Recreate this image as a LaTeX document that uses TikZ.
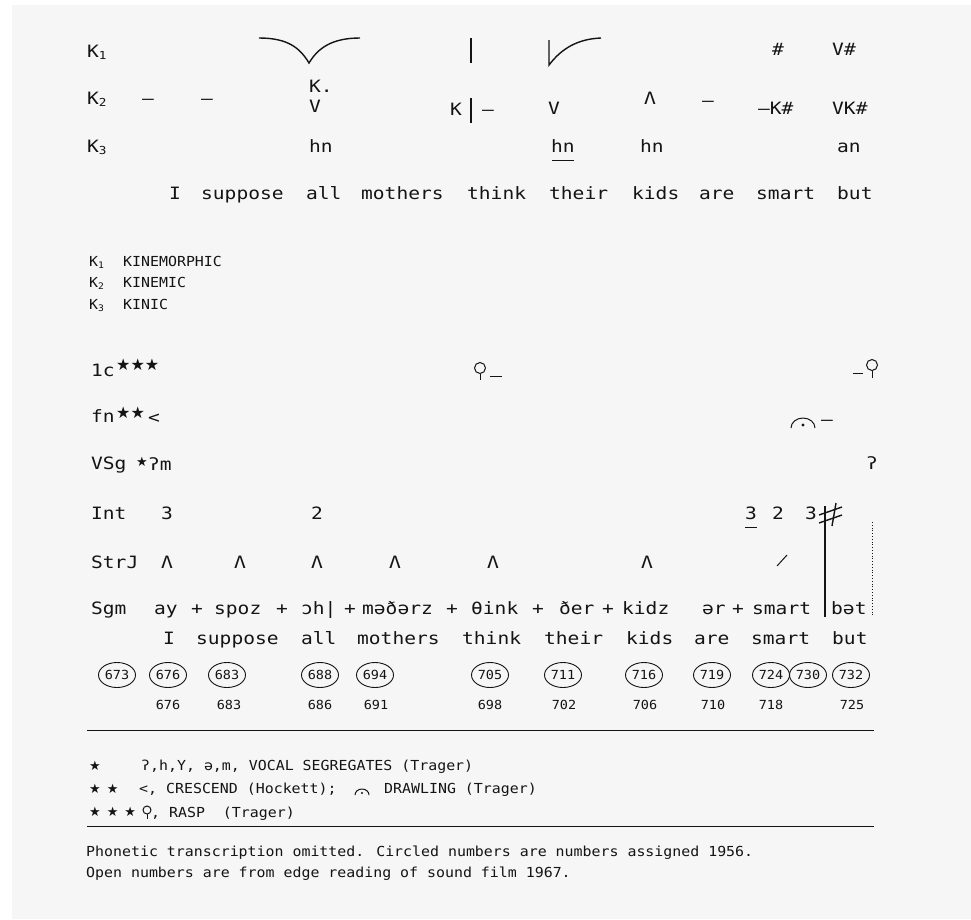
\documentclass[tikz,border=0pt]{standalone}
\usepackage{fontspec}
\usetikzlibrary{shapes.geometric}
\setmainfont[FakeStretch=1.15]{DejaVu Sans Mono}
\newfontfamily\smallf[FakeStretch=1.08]{DejaVu Sans Mono}
\newfontfamily\symf{DejaVu Sans}
\definecolor{bg}{HTML}{F6F6F6}
\definecolor{ink}{HTML}{141414}
\newcommand{\ksub}[1]{\raisebox{-0.12em}{\fontsize{11pt}{11pt}\selectfont #1}}
\newcommand{\ksubs}[1]{\raisebox{-0.12em}{\fontsize{9pt}{9pt}\selectfont #1}}
\tikzset{
  big/.style={font=\fontsize{17pt}{20pt}\selectfont, text=ink, inner sep=0pt, anchor=mid west},
  bigc/.style={big, anchor=mid},
  small/.style={font=\smallf\fontsize{13.8pt}{16pt}\selectfont, text=ink, inner sep=0pt, anchor=mid west},
  stars/.style={font=\symf\fontsize{16pt}{18pt}\selectfont, text=ink, inner sep=0pt, anchor=base west},
  fstars/.style={font=\symf\fontsize{13pt}{14pt}\selectfont, text=ink, inner sep=0pt, anchor=base west},
  num/.style={font=\smallf\fontsize{12.5pt}{14pt}\selectfont, text=ink, inner sep=0pt, anchor=mid},
  circnum/.style={num, draw=ink, ellipse, minimum width=37pt, minimum height=25pt, line width=0.9pt, anchor=center},
  stroke/.style={draw=ink, line width=1.4pt},
  thin/.style={draw=ink, line width=1pt},
}
\begin{document}
\begin{tikzpicture}[x=1pt,y=-1pt]
\useasboundingbox (0,0) rectangle (971,919);
\fill[bg] (12,5) rectangle (971,919);

% ---------- kinesic rows
\node[big] (k1) at (87,55) {K\ksub{1}};
\node[big] (k2) at (87,102) {K\ksub{2}};
\node[big] (k3) at (87,150) {K\ksub{3}};

\draw[stroke] (259,38) .. controls (288,38) and (300,48) .. (309,63) .. controls (318,48) and (332,38) .. (360,38);
\draw[stroke] (471,38) -- (471,63);
\draw[stroke] (549,40) -- (549,65) .. controls (562,48) and (578,39) .. (601,38);
\node[bigc] (a1) at (778,53) {\#};
\node[bigc] (a2) at (844,53) {V\#};

\node[bigc] (b1) at (148,102) {–};
\node[bigc] (b2) at (207,102) {–};
\node[big] (b3) at (309,90) {K.};
\node[big] (b4) at (309,110) {V};
\node[big] (b5) at (450,113) {K};
\draw[stroke] (471,98) -- (471,123);
\node[big] (b6) at (482,113) {–};
\node[bigc] (b7) at (554,112) {V};
\node[bigc] (b8) at (650,102) {Λ};
\node[bigc] (b9) at (708,104) {–};
\node[big] (b10) at (758,112) {–K\#};
\node[big] (b11) at (832,112) {VK\#};

\node[big] (c1) at (309,150) {hn};
\node[big] (c2) at (551,150) {hn};
\draw[thin] (552,160) -- (574,160);
\node[big] (c3) at (640,150) {hn};
\node[big] (c4) at (837,150) {an};

\node[big] (w1) at (169,197) {I};
\node[big] (w2) at (201,197) {suppose};
\node[big] (w3) at (306,197) {all};
\node[big] (w4) at (361,197) {mothers};
\node[big] (w5) at (467,197) {think};
\node[big] (w6) at (549,197) {their};
\node[big] (w7) at (632,197) {kids};
\node[big] (w8) at (699,197) {are};
\node[big] (w9) at (756,197) {smart};
\node[big] (w10) at (837,197) {but};

% ---------- legend
\node[small] (l1) at (89,264) {K\ksubs{1}};
\node[small] (l1t) at (123,264) {KINEMORPHIC};
\node[small] (l2) at (89,285) {K\ksubs{2}};
\node[small] (l2t) at (123,285) {KINEMIC};
\node[small] (l3) at (89,307) {K\ksubs{3}};
\node[small] (l3t) at (123,307) {KINIC};

% ---------- paralinguistic rows
\node[big] (r1) at (91,374) {1c};
\node[stars] (r1s) at (116,370) {★★★};
\draw[thin] (480,368) circle (5.5);
\draw[thin] (480,373.5) -- (480,380);
\draw[thin] (490,376) -- (502,376);
\draw[thin] (853,373) -- (863,373);
\draw[thin] (872,365) circle (5.5);
\draw[thin] (872,370.5) -- (872,378);

\node[big] (r2) at (91,420) {fn};
\node[stars] (r2s) at (116,418) {★★};
\node[big] (r2l) at (148,421) {<};
\draw[thin] (791,428) arc[start angle=180, end angle=360, x radius=12, y radius=10];
\fill[ink] (803,425) circle (1.6);
\node[bigc] (r2d) at (827,423) {–};

\node[big] (r3) at (91,467) {VSg};
\node[fstars] (r3s) at (136,466) {★};
\node[big] (r3g) at (148,468) {ʔm};
\node[bigc] (r3r) at (872,467) {ʔ};

\node[big] (r4) at (91,517) {Int};
\node[bigc] (i1) at (167,517) {3};
\node[bigc] (i2) at (317,517) {2};
\node[bigc] (i3) at (751,517) {3};
\draw[thin] (745,527) -- (757,527);
\node[bigc] (i4) at (778,517) {2};
\node[bigc] (i5) at (811,517) {3};
\draw[stroke] (825,506) -- (825,617);
\draw[stroke] (832,526) -- (836,503);
\draw[stroke] (819,515) -- (842,507);
\draw[stroke] (819,523) -- (842,515);
\draw[ink, line width=0.9pt, dash pattern=on 1pt off 1.8pt] (872,522) -- (872,617);

\node[big] (r5) at (91,566) {StrJ};
\foreach \x/\n in {167/s1,240/s2,317/s3,395/s4,493/s5,647/s6}
  \node[bigc] (\n) at (\x,566) {Λ};
\draw[thin] (777,566) -- (787,555);

\node[big] (r6) at (91,612) {Sgm};
\node[big] (g1) at (154,612) {ay};
\node[bigc] (p1) at (197,612) {+};
\node[big] (g2) at (214,612) {spoz};
\node[bigc] (p2) at (282,612) {+};
\node[big] (g3) at (301,612) {ɔh|};
\node[bigc] (p3) at (350,612) {+};
\node[big] (g4) at (362,612) {məðərz};
\node[bigc] (p4) at (452,612) {+};
\node[big] (g5) at (471,612) {θink};
\node[bigc] (p5) at (538,612) {+};
\node[big] (g6) at (559,612) {ðer};
\node[bigc] (p6) at (608,612) {+};
\node[big] (g7) at (622,612) {kidz};
\node[big] (g8) at (702,612) {ər};
\node[bigc] (p7) at (738,612) {+};
\node[big] (g9) at (752,612) {smart};
\node[big] (g10) at (831,612) {bət};

\node[big] (v1) at (163,642) {I};
\node[big] (v2) at (196,642) {suppose};
\node[big] (v3) at (301,642) {all};
\node[big] (v4) at (357,642) {mothers};
\node[big] (v5) at (462,642) {think};
\node[big] (v6) at (544,642) {their};
\node[big] (v7) at (626,642) {kids};
\node[big] (v8) at (694,642) {are};
\node[big] (v9) at (751,642) {smart};
\node[big] (v10) at (832,642) {but};

\foreach \x/\t in {117/673,168/676,227/683,320/688,375/694,490/705,563/711,644/716,712/719,771/724,808/730,851/732}
  \node[circnum] (e\t) at (\x,675) {\t};

\foreach \x/\t in {168/676,229/683,320/686,376/691,490/698,564/702,645/706,713/710,771/718,852/725}
  \node[num] (o\t) at (\x,707) {\t};

\draw[thin] (87,730) -- (874,730);
\draw[thin] (87,826) -- (874,826);

% ---------- footnotes
\node[fstars] (f1s) at (89,770) {★};
\node[small] (f1) at (141,768) {ʔ,h,Y, ə,m, VOCAL SEGREGATES (Trager)};
\node[fstars] (f2s) at (89,793) {★\hspace{6pt}★};
\node[small] (f2) at (139,791) {<, CRESCEND (Hockett);};
\draw[thin] (355,795) arc[start angle=180, end angle=360, x radius=7, y radius=6];
\fill[ink] (362,793) circle (1.2);
\node[small] (f2b) at (384,791) {DRAWLING (Trager)};
\node[fstars] (f3s) at (89,816) {★\hspace{6pt}★\hspace{6pt}★};
\draw[thin] (147,810) circle (4);
\draw[thin] (147,814) -- (147,819);
\node[small] (f3) at (151,815) {, RASP~ (Trager)};

\node[small] (n1) at (86,854) {Phonetic transcription omitted. Circled numbers are numbers assigned 1956.};
\node[small] (n2) at (86,875) {Open numbers are from edge reading of sound film 1967.};
\end{tikzpicture}
\end{document}
